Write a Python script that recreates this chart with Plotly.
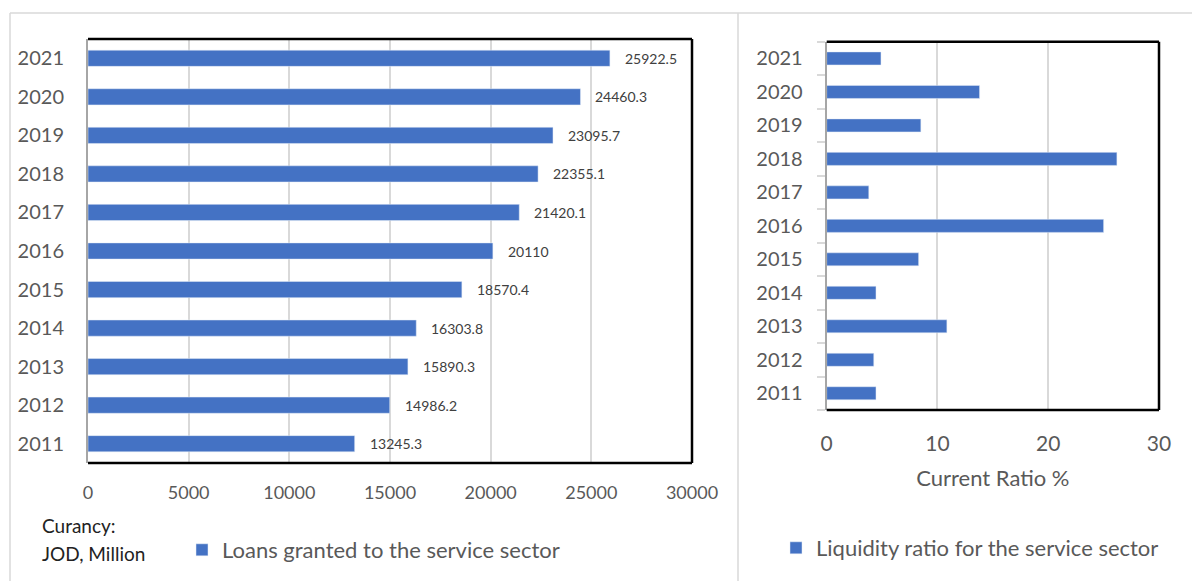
import plotly.graph_objects as go

years = ["2011", "2012", "2013", "2014", "2015", "2016", "2017", "2018", "2019", "2020", "2021"]
loans = [13245.3, 14986.2, 15890.3, 16303.8, 18570.4, 20110, 21420.1, 22355.1, 23095.7, 24460.3, 25922.5]
loan_labels = ["13245.3", "14986.2", "15890.3", "16303.8", "18570.4", "20110", "21420.1", "22355.1", "23095.7", "24460.3", "25922.5"]
liquidity = [4.45, 4.25, 10.85, 4.45, 8.3, 25.0, 3.8, 26.2, 8.5, 13.8, 4.9]

loan_ticks = [0, 5000, 10000, 15000, 20000, 25000, 30000]
ratio_ticks = [0, 10, 20, 30]

W, H = 1192, 581
BLUE = "#4472C4"
GRAY = "#595959"
GRID = "#D9D9D9"
FONT = "Lato"

def px(x):
    return x / W

def py(y):
    return 1 - y / H

fig = go.Figure()
fig.add_trace(go.Bar(
    x=loans, y=years, orientation="h", marker_color=BLUE, width=0.42,
    name="Loans granted to the service sector", xaxis="x", yaxis="y",
    legend="legend", hoverinfo="x+y"))
fig.add_trace(go.Bar(
    x=liquidity, y=years, orientation="h", marker_color=BLUE, width=0.39,
    name="Liquidity ratio for the service sector", xaxis="x2", yaxis="y2",
    legend="legend2", hoverinfo="x+y"))

annotations = []
for i, (v, lab) in enumerate(zip(loans, loan_labels)):
    annotations.append(dict(x=v, y=i, xref="x", yref="y", text=lab, showarrow=False,
                            xanchor="left", yanchor="middle", xshift=13,
                            font=dict(family=FONT, size=14, color="#404040")))

annotations += [
    dict(x=px(40), y=py(525), xref="paper", yref="paper", text="Curancy:", showarrow=False,
         xanchor="left", yanchor="middle", font=dict(family=FONT, size=19, color="#222222")),
    dict(x=px(40), y=py(553), xref="paper", yref="paper", text="JOD, Million", showarrow=False,
         xanchor="left", yanchor="middle", font=dict(family=FONT, size=19, color="#222222")),
]

shapes = [
    dict(type="line", xref="paper", yref="paper", x0=px(10), x1=1, y0=py(13), y1=py(13), line=dict(color=GRID, width=1.5)),
    dict(type="line", xref="paper", yref="paper", x0=px(10), x1=px(10), y0=py(13), y1=0, line=dict(color=GRID, width=1.5)),
    dict(type="line", xref="paper", yref="paper", x0=px(738), x1=px(738), y0=py(13), y1=0, line=dict(color=GRID, width=1.5)),
]
for xr, yr in (("x domain", "y domain"), ("x2 domain", "y2 domain")):
    shapes += [
        dict(type="line", xref=xr, yref=yr, x0=0, x1=1, y0=1, y1=1, line=dict(color="black", width=2.5)),
        dict(type="line", xref=xr, yref=yr, x0=1, x1=1, y0=0, y1=1, line=dict(color="black", width=2.5)),
        dict(type="line", xref=xr, yref=yr, x0=0, x1=1, y0=0, y1=0, line=dict(color="black", width=2.5)),
    ]

fig.update_layout(
    width=W, height=H, margin=dict(l=0, r=0, t=0, b=0, autoexpand=False),
    paper_bgcolor="white", plot_bgcolor="white",
    font=dict(family=FONT, color=GRAY),
    xaxis=dict(domain=[px(88), px(692)], range=[0, 30000], tickvals=loan_ticks, tickformat="d",
               showgrid=True, gridcolor=GRID, gridwidth=1.5, zeroline=False, automargin=False,
               showline=False, ticks="", tickfont=dict(family=FONT, size=18, color=GRAY),
               ticklabelstandoff=17, anchor="y"),
    yaxis=dict(domain=[py(463), py(39)], type="category", categoryorder="array", categoryarray=years,
               range=[-0.5, 10.5], automargin=False,
               showgrid=False, showline=True, linecolor="#A6A6A6", linewidth=2, ticks="",
               tickfont=dict(family=FONT, size=20, color=GRAY), ticklabelstandoff=18, anchor="x"),
    xaxis2=dict(domain=[px(826.7), px(1159)], range=[0, 30], tickvals=ratio_ticks,
                showgrid=True, gridcolor=GRID, gridwidth=1.5, zeroline=False, automargin=False,
                showline=False, ticks="", tickfont=dict(family=FONT, size=21, color=GRAY),
                ticklabelstandoff=19, anchor="y2",
                title=dict(text="Current Ratio %", font=dict(family=FONT, size=22, color=GRAY), standoff=16)),
    yaxis2=dict(domain=[py(410), py(41.7)], type="category", categoryorder="array", categoryarray=years,
                range=[-0.5, 10.5], automargin=False,
                showgrid=False, showline=True, linecolor="#A6A6A6", linewidth=2,
                ticks="outside", tickson="boundaries", ticklen=8, tickcolor=GRID, tickwidth=1.5,
                tickfont=dict(family=FONT, size=20, color=GRAY), ticklabelstandoff=18, anchor="x2"),
    legend=dict(x=px(182), y=py(550), xanchor="left", yanchor="middle", orientation="h",
                font=dict(family=FONT, size=22, color=GRAY), bgcolor="rgba(0,0,0,0)", borderwidth=0),
    legend2=dict(x=px(776), y=py(548), xanchor="left", yanchor="middle", orientation="h",
                 font=dict(family=FONT, size=22, color=GRAY), bgcolor="rgba(0,0,0,0)", borderwidth=0),
    showlegend=True,
    annotations=annotations,
    shapes=shapes,
)

fig.write_html("out.html")
